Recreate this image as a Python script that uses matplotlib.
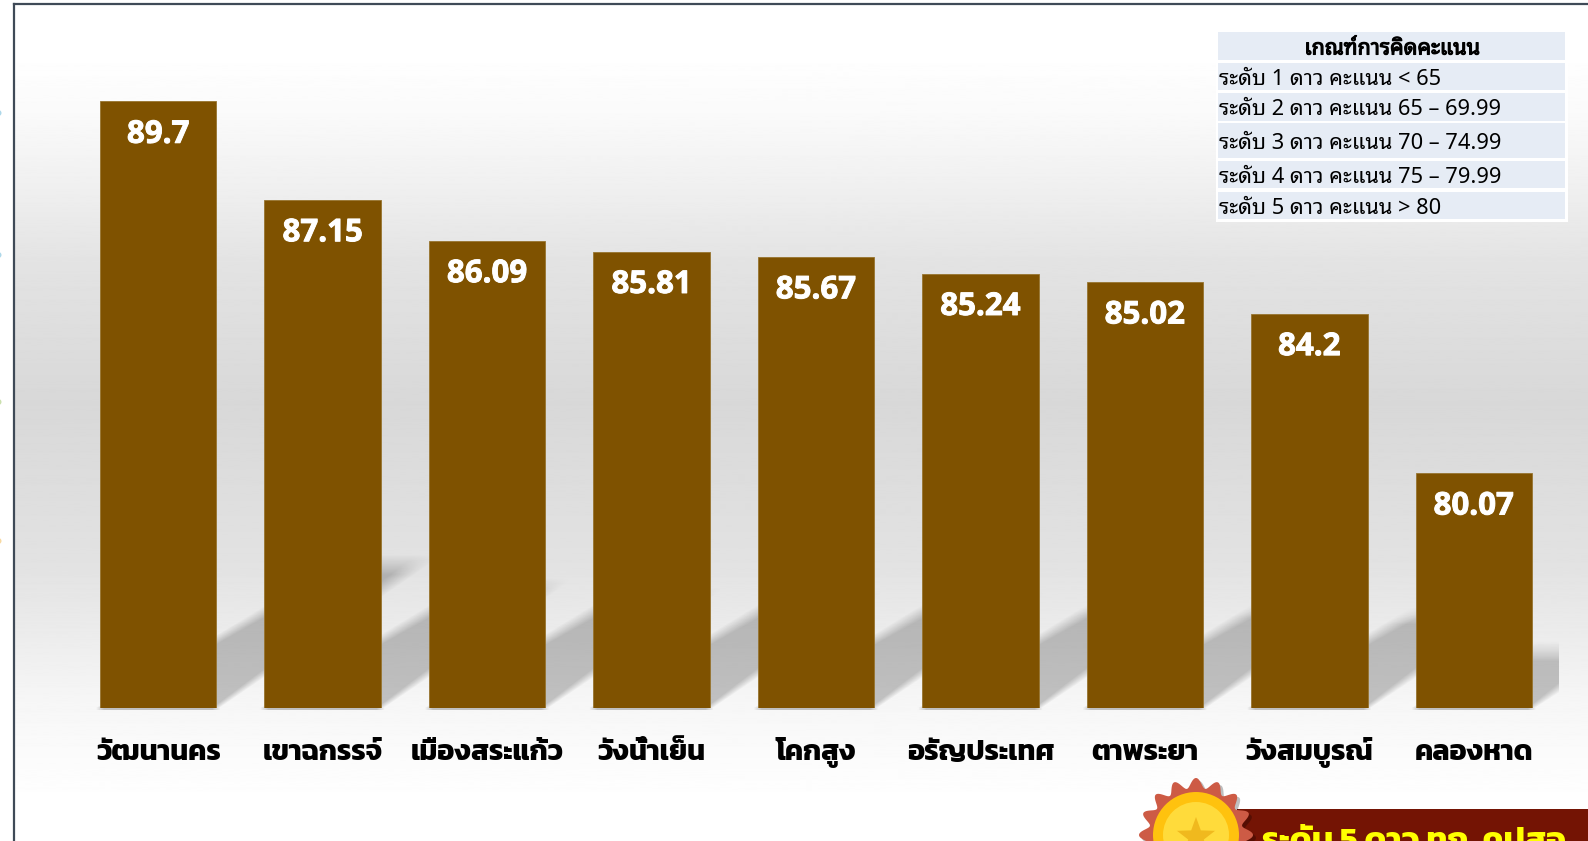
import numpy as np
import matplotlib
matplotlib.use('Agg')
import matplotlib.pyplot as plt
import matplotlib.patheffects as pe
from matplotlib.patches import Rectangle, Polygon, Circle

W, H = 1588, 841

districts = ['วัฒนานคร', 'เขาฉกรรจ์', 'เมืองสระแก้ว', 'วังน้ำเย็น', 'โคกสูง',
             'อรัญประเทศ', 'ตาพระยา', 'วังสมบูรณ์', 'คลองหาด']
scores = [89.7, 87.15, 86.09, 85.81, 85.67, 85.24, 85.02, 84.2, 80.07]
score_labels = ['89.7', '87.15', '86.09', '85.81', '85.67', '85.24', '85.02', '84.2', '80.07']

table_title = 'เกณฑ์การคิดคะแนน'
table_rows = ['ระดับ 1 ดาว คะแนน < 65',
              'ระดับ 2 ดาว คะแนน 65 – 69.99',
              'ระดับ 3 ดาว คะแนน 70 – 74.99',
              'ระดับ 4 ดาว คะแนน 75 – 79.99',
              'ระดับ 5 ดาว คะแนน > 80']
badge_text = 'ระดับ 5 ดาว ทถ. คปสอ'

LABEL_FONT = ['Kanit', 'Noto Sans Thai', 'DejaVu Sans']
TABLE_FONT = ['Noto Sans Thai Looped', 'IBM Plex Sans Thai Looped', 'Noto Sans Thai', 'DejaVu Sans']
VALUE_FONT = ['Open Sans', 'DejaVu Sans']

fig = plt.figure(figsize=(W / 100, H / 100), dpi=100)

# page layer in pixel coords, y going down
bg = fig.add_axes([0, 0, 1, 1], zorder=0)
bg.set_xlim(0, W)
bg.set_ylim(H, 0)
bg.axis('off')

ys = np.array([0, 60, 110, 180, 260, 400, 560, 640, 700, 790, 841], dtype=float)
gs = np.array([255, 254, 250, 240, 227, 216, 226, 237, 246, 254, 255], dtype=float)
grad = np.interp(np.arange(H), ys, gs) / 255
bg.imshow(grad[:, None], extent=(13, W, H, 4), cmap='gray', vmin=0, vmax=1, aspect='auto', zorder=0)
bg.set_xlim(0, W)
bg.set_ylim(H, 0)
bg.plot([14, 14], [H, 4], color='#3f4a57', lw=1.6, zorder=1)
bg.plot([14, W], [4, 4], color='#3f4a57', lw=1.6, zorder=1)

# bits of something cut off at the left edge
for dot_y, dot_c in zip([113, 255, 402, 541], ['#8cc8e0', '#8cc8e0', '#b5d48c', '#f5c97a']):
    bg.add_patch(Circle((-1.5, dot_y), 3, fc=dot_c, ec='none', alpha=0.7, zorder=1))

# chart
left, right = 76, 1556
top, base = 60, 707.5
ax = fig.add_axes([left / W, 1 - base / H, (right - left) / W, (base - top) / H], zorder=2)
ax.patch.set_alpha(0)
ymin = 74
ax.set_xlim(-0.5, len(scores) - 0.5)
ax.set_ylim(ymin, ymin + (base - top) / 38.6)
for s in ax.spines.values():
    s.set_visible(False)
ax.set_yticks([])
x = np.arange(len(scores))
bars = ax.bar(x, scores, width=0.708, color='#7f5200', edgecolor='#97742f', linewidth=0.6, zorder=3)

ax.set_xticks(x)
ax.set_xticklabels(districts, family=LABEL_FONT, fontsize=20.5, fontweight='bold', color='black')
ax.tick_params(axis='x', length=0, pad=37.5)
for lab in ax.get_xticklabels():
    lab.set_verticalalignment('baseline')

for xi, v, t in zip(x, scores, score_labels):
    ax.annotate(t, (xi, v), xytext=(0, -24), textcoords='offset points', ha='center', va='center',
                color='white', family=VALUE_FONT, fontsize=22.5, fontweight='bold', zorder=4,
                path_effects=[pe.withStroke(linewidth=0.7, foreground='white')])

# skewed soft shadow behind the bars, worked out from the bar rectangles
fig.canvas.draw()
xx, yy = np.meshgrid(np.arange(W) + 0.5, np.arange(H) + 0.5)
shadow = np.zeros((H, W))
for b in bars:
    (x0, _), (x1, y1) = ax.transData.transform([(b.get_x(), ymin), (b.get_x() + b.get_width(), b.get_height())])
    y1 = H - y1
    sh = (base - y1) * 0.235
    t = np.clip((base - yy) / sh, 0, 1.2)
    xl = x0 + t * sh * 1.72
    xr = x1 + t * sh * 1.40
    blur = 8 + 18 * t
    a = np.clip((xx - xl) / blur + 0.5, 0, 1) * np.clip((xr - xx) / blur + 0.5, 0, 1)
    a = a * np.clip((yy - (base - sh)) / (4 + 16 * t) + 0.5, 0, 1) * (yy < base + 3)
    shadow = np.maximum(shadow, a)
shadow[:, 1559:] = 0
rgba = np.zeros((H, W, 4))
rgba[..., 3] = shadow * 0.22
bg.imshow(rgba, extent=(0, W, H, 0), aspect='auto', zorder=2)
bg.set_xlim(0, W)
bg.set_ylim(H, 0)

# table, drawn on a layer above the chart
top_layer = fig.add_axes([0, 0, 1, 1], zorder=5)
top_layer.set_xlim(0, W)
top_layer.set_ylim(H, 0)
top_layer.axis('off')
top_layer.patch.set_alpha(0)

top_layer.add_patch(Rectangle((1216, 30), 352, 192, fc='white', ec='none'))
row_tops = [32, 62.7, 92.7, 123, 161, 191.7]
row_ends = [60, 90, 120.7, 157.7, 188, 219]
for y0, y1 in zip(row_tops, row_ends):
    top_layer.add_patch(Rectangle((1218, y0), 347, y1 - y0, fc='#e6ecf5', ec='none'))
top_layer.text(1392, (row_tops[0] + row_ends[0]) / 2 + 3, table_title, ha='center', va='center',
               family=TABLE_FONT, fontsize=15.5, fontweight='bold', color='black',
               path_effects=[pe.withStroke(linewidth=0.8, foreground='black')])
for s, y0, y1 in zip(table_rows, row_tops[1:], row_ends[1:]):
    top_layer.text(1219, (y0 + y1) / 2 + 3, s, ha='left', va='center', family=TABLE_FONT, fontsize=15.7, color='black')

# medal and banner, bottom right
top_layer.add_patch(Rectangle((1237, 809), W - 1237, H - 809, fc='#741404', ec='none', zorder=2))
top_layer.text(1262, 842, badge_text, ha='left', va='center', family=LABEL_FONT, fontsize=24,
               fontweight='bold', color='#ffff00', zorder=3, clip_on=True)
ang = np.linspace(0, 2 * np.pi, 720)
rad = 52 + 5 * np.cos(16 * ang)
gear = np.column_stack([1196 + rad * np.sin(ang), 835 - rad * np.cos(ang)])
top_layer.add_patch(Polygon(gear + [3, 3], fc='#00000040', ec='none', zorder=3))
top_layer.add_patch(Polygon(gear, fc='#cd5b45', ec='none', zorder=4))
top_layer.add_patch(Circle((1196, 835), 43, fc='#ffc20e', ec='none', zorder=5))
top_layer.add_patch(Circle((1196, 835), 33, fc='#ffdb3b', ec='none', zorder=6))
a_star = np.arange(10) * np.pi / 5
r_star = np.where(np.arange(10) % 2 == 0, 20, 8.2)
top_layer.add_patch(Polygon(np.column_stack([1196 + r_star * np.sin(a_star), 837 - r_star * np.cos(a_star)]),
                            fc='#f0b91e', ec='none', zorder=7))

fig.savefig('out.png', dpi=100)
